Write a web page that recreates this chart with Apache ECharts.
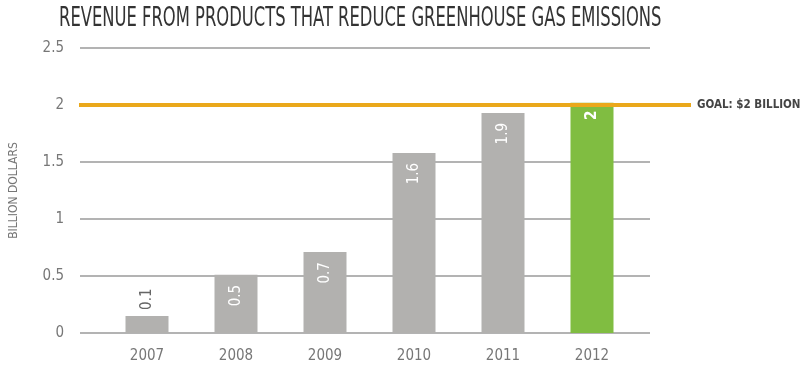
<!DOCTYPE html>
<html>
<head>
<meta charset="utf-8">
<script src="https://cdn.jsdelivr.net/npm/echarts@6/dist/echarts.min.js"></script>
<style>html,body{margin:0;padding:0;background:#fff;}#c{width:801px;height:368px;}</style>
</head>
<body>
<div id="c"></div>
<script>
const titleText = 'REVENUE FROM PRODUCTS THAT REDUCE GREENHOUSE GAS EMISSIONS';
const categories = ['2007', '2008', '2009', '2010', '2011', '2012'];
const revenue = [0.15, 0.51, 0.71, 1.58, 1.93, 2.02];
const valueLabels = ['0.1', '0.5', '0.7', '1.6', '1.9', '2'];
const goal = 2;
const goalLabel = 'GOAL: $2 BILLION';
const yMin = 0, yMax = 2.5, yStep = 0.5;
const yName = 'BILLION DOLLARS';

const NARROW = "'DejaVu Sans Condensed', 'Liberation Sans Narrow', sans-serif";
const GRAY = '#B2B1AF', GREEN = '#80BD41', ORANGE = '#EAA81B';

const barData = revenue.map((v, i) => {
  const last = i === revenue.length - 1;
  const first = i === 0;
  return {
    value: v,
    itemStyle: { color: last ? GREEN : GRAY },
    label: first ? {
      show: true, position: 'top', rotate: 90, align: 'left', verticalAlign: 'middle',
      distance: 6, color: '#666', fontSize: 15, fontFamily: NARROW,
      formatter: valueLabels[i]
    } : {
      show: true, position: 'insideTop', rotate: 90, align: 'right', verticalAlign: 'middle',
      distance: last ? 8 : 10, color: '#fff', fontSize: 15, fontFamily: NARROW,
      fontWeight: last ? 'bold' : 'normal',
      formatter: valueLabels[i]
    }
  };
});

const chart = echarts.init(document.getElementById('c'), null, { renderer: 'canvas' });
const TOP = 48, BOTTOM = 35;
chart.setOption({
  animation: false,
  graphic: [{
    type: 'text', left: 59, top: 6,
    style: { text: titleText, fontFamily: NARROW, fontSize: 26, fill: '#333' },
    scaleX: 0.70
  }],
  grid: [
    { left: 79, right: 151, top: TOP, bottom: BOTTOM },
    { left: 102.5, right: 164.5, top: TOP, bottom: BOTTOM },
    { left: 79, right: 110, top: TOP, bottom: BOTTOM }
  ],
  xAxis: [
    { gridIndex: 0, type: 'value', min: 0, max: 1, show: false, splitLine: { show: false } },
    { gridIndex: 1, type: 'category', data: categories,
      axisLine: { show: false }, axisTick: { show: false },
      axisLabel: { color: '#777', fontSize: 15, fontFamily: NARROW, margin: 16 } },
    { gridIndex: 2, type: 'value', min: 0, max: 1, show: false, splitLine: { show: false } }
  ],
  yAxis: [
    { gridIndex: 0, type: 'value', min: yMin, max: yMax, interval: yStep,
      axisLine: { show: false }, axisTick: { show: false },
      splitLine: { lineStyle: { color: '#9a9a9a', width: 1.5 } },
      axisLabel: { color: '#777', fontSize: 15, fontFamily: NARROW, margin: 16 },
      name: yName, nameLocation: 'middle', nameRotate: 90, nameGap: 60,
      nameTextStyle: { color: '#777', fontSize: 12, fontFamily: NARROW } },
    { gridIndex: 1, type: 'value', min: yMin, max: yMax, interval: yStep, show: false, splitLine: { show: false } },
    { gridIndex: 2, type: 'value', min: yMin, max: yMax, interval: yStep, show: false, splitLine: { show: false } }
  ],
  series: [
    { type: 'bar', xAxisIndex: 1, yAxisIndex: 1, barWidth: 43, data: barData, z: 2 },
    { type: 'line', xAxisIndex: 2, yAxisIndex: 2, data: [], z: 5,
      markLine: {
        silent: true, symbol: 'none',
        lineStyle: { color: ORANGE, width: 4, type: 'solid' },
        label: { show: true, position: 'end', distance: 6, color: '#444', fontSize: 11.5,
          fontWeight: 'bold', fontFamily: NARROW, formatter: goalLabel },
        data: [{ yAxis: goal }]
      } }
  ]
});
</script>
</body>
</html>
